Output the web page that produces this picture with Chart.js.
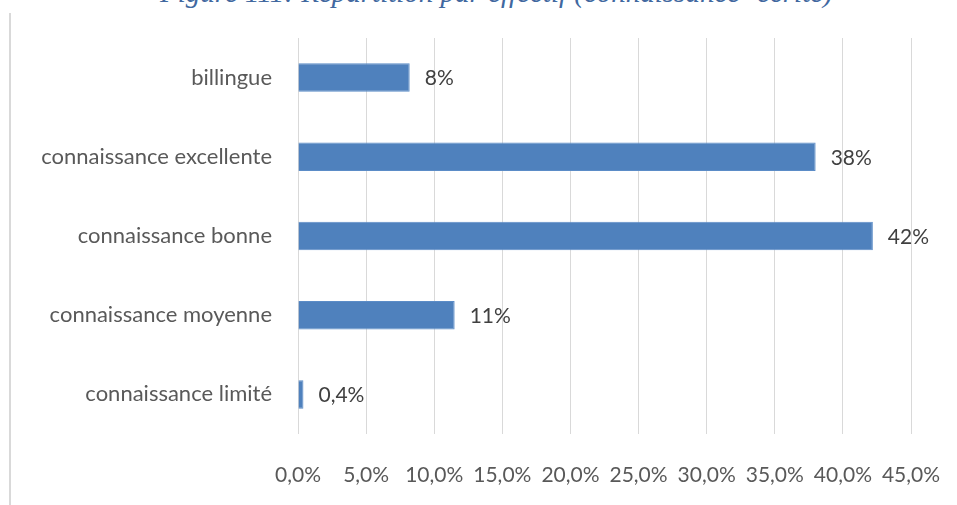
<!DOCTYPE html>
<html>
<head>
<meta charset="utf-8">
<script src="https://cdn.jsdelivr.net/npm/chart.js"></script>
<style>
  body { margin: 0; background: #fff; }
  #wrap { position: relative; width: 957px; height: 505px; overflow: hidden; }
  #titre {
    position: absolute; left: 160px; top: -22px;
    font: italic 29px/29px "Liberation Serif", "DejaVu Serif", serif; color: #41689f;
    white-space: nowrap;
  }
  #bord { position: absolute; left: 9px; top: 13px; width: 2px; bottom: 0; background: #d9d9d9; }
  canvas { position: absolute; left: 0; top: 0; }
</style>
</head>
<body>
<div id="wrap">
  <div id="titre">Figure 111: Répartition par effectif (connaissance- écrite)</div>
  <div id="bord"></div>
  <canvas id="graphe" width="957" height="505"></canvas>
</div>
<script>
// categories, valeurs (%) et etiquettes affichees
const niveaux = ['billingue', 'connaissance excellente', 'connaissance bonne', 'connaissance moyenne', 'connaissance limité'];
const pourcentages = [8.2, 38.0, 42.2, 11.5, 0.4];
const etiquettes = ['8%', '38%', '42%', '11%', '0,4%'];
const graduations = [0, 5, 10, 15, 20, 25, 30, 35, 40, 45];

const police = '"Lato", "Open Sans", sans-serif';

// etiquettes de valeur a droite des barres
const etiquettesBarres = {
  id: 'etiquettesBarres',
  afterDatasetsDraw(chart) {
    const ctx = chart.ctx;
    const meta = chart.getDatasetMeta(0);
    ctx.save();
    ctx.font = '21px ' + police;
    ctx.fillStyle = '#404040';
    ctx.textAlign = 'left';
    ctx.textBaseline = 'middle';
    meta.data.forEach((bar, i) => {
      ctx.fillText(etiquettes[i], bar.x + 15, bar.y + 1);
    });
    ctx.restore();
  }
};

const ctx = document.getElementById('graphe').getContext('2d');
new Chart(ctx, {
  type: 'bar',
  data: {
    labels: niveaux,
    datasets: [{
      data: pourcentages,
      backgroundColor: '#4f81bd',
      borderColor: '#5b8cc7',
      borderWidth: 1,
      categoryPercentage: 1,
      barPercentage: 0.36
    }]
  },
  options: {
    indexAxis: 'y',
    responsive: false,
    animation: false,
    layout: { padding: { top: 38, right: 46, left: 0, bottom: 0 } },
    plugins: {
      legend: { display: false },
      tooltip: { enabled: false }
    },
    scales: {
      x: {
        min: 0,
        max: 45,
        afterBuildTicks: scale => { scale.ticks = graduations.map(v => ({ value: v })); },
        afterFit: scale => {
          scale.height = 71;
          scale.paddingLeft = 0;
          scale.paddingRight = 0;
        },
        grid: { color: '#d9d9d9', lineWidth: 1, drawTicks: false },
        border: { display: false },
        ticks: {
          padding: 29,
          color: '#595959',
          font: { family: police, size: 21 },
          maxRotation: 0,
          autoSkip: false,
          callback: v => v.toFixed(1).replace('.', ',') + '%'
        }
      },
      y: {
        afterFit: scale => {
          scale.width = 298;
          scale.paddingTop = 0;
          scale.paddingBottom = 0;
        },
        grid: { display: false, drawTicks: false },
        border: { display: false },
        ticks: {
          padding: 26,
          color: '#595959',
          font: { family: police, size: 22 }
        }
      }
    }
  },
  plugins: [etiquettesBarres]
});
</script>
</body>
</html>
